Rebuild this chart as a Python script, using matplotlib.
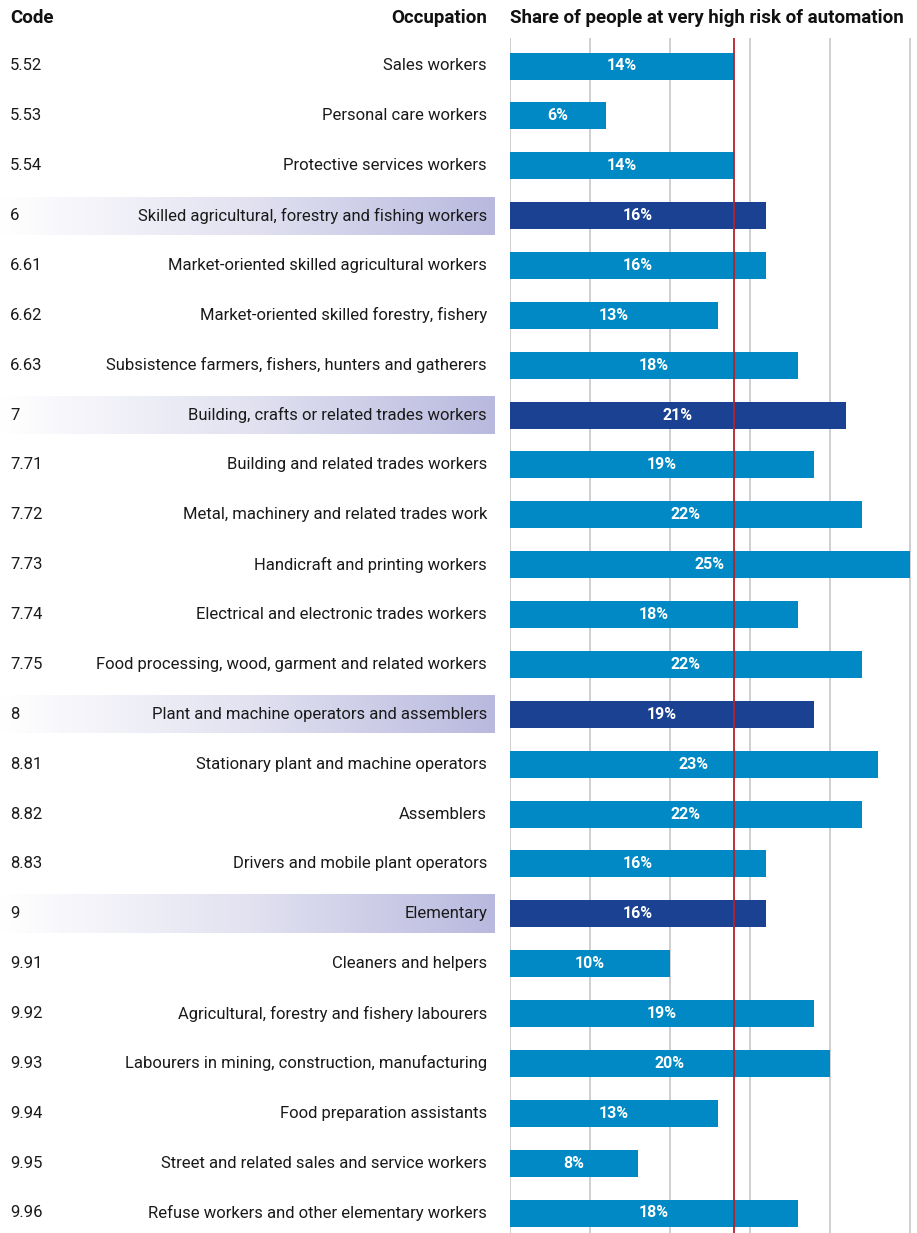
import numpy as np
import matplotlib
matplotlib.use("Agg")
import matplotlib.pyplot as plt
from matplotlib.colors import LinearSegmentedColormap
from matplotlib import font_manager

codes = ["5.52", "5.53", "5.54", "6", "6.61", "6.62", "6.63", "7", "7.71", "7.72",
         "7.73", "7.74", "7.75", "8", "8.81", "8.82", "8.83", "9", "9.91", "9.92",
         "9.93", "9.94", "9.95", "9.96"]
occupations = [
    "Sales workers",
    "Personal care workers",
    "Protective services workers",
    "Skilled agricultural, forestry and fishing workers",
    "Market-oriented skilled agricultural workers",
    "Market-oriented skilled forestry, fishery",
    "Subsistence farmers, fishers, hunters and gatherers",
    "Building, crafts or related trades workers",
    "Building and related trades workers",
    "Metal, machinery and related trades work",
    "Handicraft and printing workers",
    "Electrical and electronic trades workers",
    "Food processing, wood, garment and related workers",
    "Plant and machine operators and assemblers",
    "Stationary plant and machine operators",
    "Assemblers",
    "Drivers and mobile plant operators",
    "Elementary",
    "Cleaners and helpers",
    "Agricultural, forestry and fishery labourers",
    "Labourers in mining, construction, manufacturing",
    "Food preparation assistants",
    "Street and related sales and service workers",
    "Refuse workers and other elementary workers",
]
shares = [14, 6, 14, 16, 16, 13, 18, 21, 19, 22, 25, 18, 22, 19, 23, 22, 16, 16,
          10, 19, 20, 13, 8, 18]
average_share = 14

# major groups are the single-digit codes
is_group = ["." not in c for c in codes]

installed = {f.name for f in font_manager.fontManager.ttflist}
family = ["Liberation Sans Narrow"] if "Liberation Sans Narrow" in installed else ["Roboto"]
family = family + ["DejaVu Sans"]
plt.rcParams["font.family"] = family

W, H = 917, 1233
fig = plt.figure(figsize=(W / 100, H / 100), dpi=100)

n = len(codes)
first_px, last_px = 66, 1213
row_px = (last_px - first_px) / (n - 1)
y_top = -first_px / row_px
y_bot = (n - 1) + (H - last_px) / row_px

BAR_BLUE = "#0089c4"
GROUP_BLUE = "#1b4193"
GRID = "#cfcfcf"
RED = "#b5232b"

# bar panel
px_per_pct = 16
ax = fig.add_axes([510 / W, 0, (W - 510) / W, 1])
ax.set_xlim(0, (W - 510) / px_per_pct)
ax.set_ylim(y_bot, y_top)
ax.axis("off")

grid_top = y_top + 38 / row_px
for g in [0, 5, 10, 15, 20, 25]:
    ax.vlines(g, grid_top, y_bot, color=GRID, lw=1.4, zorder=0)
ax.vlines(average_share, grid_top, y_bot, color=RED, lw=1.3, zorder=3)

ypos = np.arange(n)
colors = [GROUP_BLUE if g else BAR_BLUE for g in is_group]
ax.barh(ypos, shares, height=27 / row_px, color=colors, zorder=2)
for y, v in zip(ypos, shares):
    ax.text(v / 2, y, f"{v}%", ha="center", va="center", color="white",
            fontsize=11.5, fontweight="bold", zorder=4)

# label panel
lab = fig.add_axes([0, 0, 510 / W, 1])
cmap = LinearSegmentedColormap.from_list("band", ["#ffffff", "#e2e2f1", "#b9b9df"])
grad = np.linspace(0, 1, 256).reshape(1, -1)
half = 19 / row_px
for y, g in zip(ypos, is_group):
    if g:
        lab.imshow(grad, cmap=cmap, aspect="auto",
                   extent=[0, 495, y + half, y - half], zorder=0)
lab.set_xlim(0, 510)
lab.set_ylim(y_bot, y_top)
lab.axis("off")

for y, c, o in zip(ypos, codes, occupations):
    lab.text(10, y, c, ha="left", va="center", fontsize=12, color="#1a1a1a")
    lab.text(487, y, o, ha="right", va="center", fontsize=12, color="#1a1a1a")

head_y = y_top + 18 / row_px
lab.text(10, head_y, "Code", ha="left", va="center", fontsize=13.5,
         fontweight="bold", color="#111111")
lab.text(487, head_y, "Occupation", ha="right", va="center", fontsize=13.5,
         fontweight="bold", color="#111111")
ax.text(0, head_y, "Share of people at very high risk of automation", ha="left",
        va="center", fontsize=13.5, fontweight="bold", color="#111111")

fig.savefig("out.png", dpi=100)
